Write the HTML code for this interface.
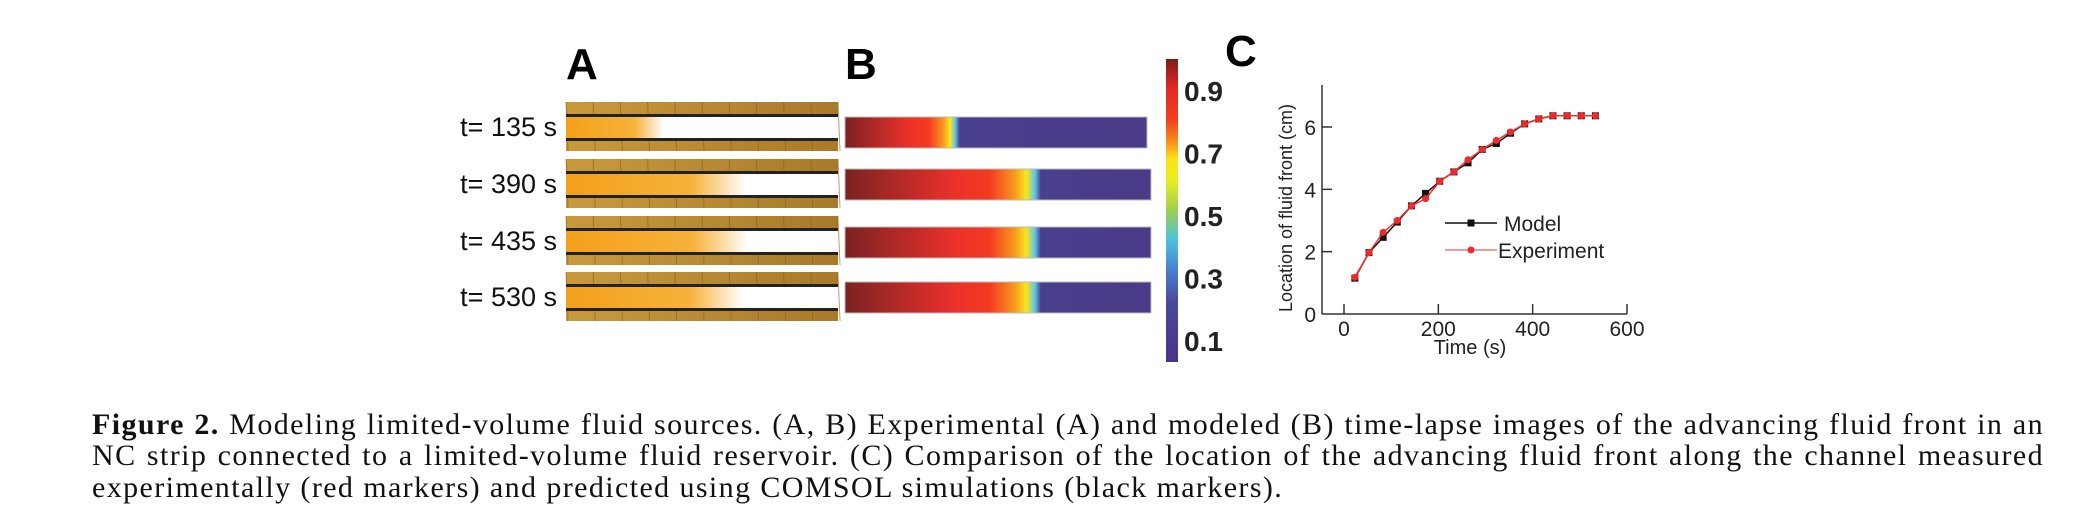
<!DOCTYPE html>
<html><head><meta charset="utf-8"><style>
html,body{margin:0;padding:0;background:#fff;width:2074px;height:529px;overflow:hidden;position:relative}
.cap{position:absolute;left:92px;width:1952px;font-family:"Liberation Serif",serif;font-size:30px;letter-spacing:1.4px;line-height:31px;color:#111;text-align:justify;text-align-last:justify;white-space:nowrap}
.cap.last{text-align-last:left}
</style></head><body>
<svg width="2074" height="400" style="position:absolute;left:0;top:0">
<defs>
<linearGradient id="band" x1="0" x2="1"><stop offset="0" stop-color="#c99a3c"/><stop offset="1" stop-color="#a87a2a"/></linearGradient>
<linearGradient id="cbar" x1="0" y1="0" x2="0" y2="1">
<stop offset="0" stop-color="#7a1c1c"/><stop offset="0.1" stop-color="#e32a22"/><stop offset="0.2" stop-color="#f04020"/><stop offset="0.27" stop-color="#f88a1c"/><stop offset="0.33" stop-color="#fbe21a"/><stop offset="0.4" stop-color="#e6ee20"/><stop offset="0.5" stop-color="#9cd050"/><stop offset="0.6" stop-color="#4cc0e0"/><stop offset="0.7" stop-color="#4a7ed0"/><stop offset="0.8" stop-color="#4a4a9a"/><stop offset="1" stop-color="#4a3488"/></linearGradient>
</defs>
<text x="566" y="79" font-family="Liberation Sans,sans-serif" font-weight="bold" font-size="44">A</text>
<text x="845" y="79" font-family="Liberation Sans,sans-serif" font-weight="bold" font-size="44">B</text>
<text x="1225" y="66" font-family="Liberation Sans,sans-serif" font-weight="bold" font-size="44">C</text>
<g id="strips-a"></g>
<g id="strips-b"></g>
<rect x="1166" y="59" width="12" height="303" fill="url(#cbar)"/>
<g id="cbticks"></g>
<g id="chart"></g>
</svg>
<div class="cap" style="top:409px"><b>Figure 2.</b> Modeling limited-volume fluid sources. (A, B) Experimental (A) and modeled (B) time-lapse images of the advancing fluid front in an</div>
<div class="cap" style="top:440px">NC strip connected to a limited-volume fluid reservoir. (C) Comparison of the location of the advancing fluid front along the channel measured</div>
<div class="cap last" style="top:472px">experimentally (red markers) and predicted using COMSOL simulations (black markers).</div>
<script>
const times=["t= 135 s","t= 390 s","t= 435 s","t= 530 s"];
const expFront=[0.36,0.66,0.67,0.65];
const modFront=[0.37,0.63,0.63,0.63];
const cbLabels=["0.9","0.7","0.5","0.3","0.1"];
const cbValues=[0.9,0.7,0.5,0.3,0.1];
const tData=[23,53,83,113,143,173,203,233,263,293,323,353,383,413,443,473,503,533];
const modelY=[1.15,1.97,2.46,2.95,3.47,3.87,4.26,4.56,4.85,5.28,5.47,5.8,6.1,6.26,6.36,6.36,6.36,6.36];
const expY=[1.18,1.97,2.62,3.0,3.47,3.7,4.26,4.56,4.95,5.28,5.57,5.84,6.1,6.26,6.36,6.36,6.36,6.36];
const xTicks=[0,200,400,600];
const yTicks=[0,2,4,6];
const NS="http://www.w3.org/2000/svg";
function mk(p,tag,a){const e=document.createElementNS(NS,tag);for(const k in a)e.setAttribute(k,a[k]);p.appendChild(e);return e;}
const gA=document.getElementById('strips-a');
const aTop=[102,159,216,272];
times.forEach((t,i)=>{
 const y=aTop[i],x=566,w=272,h=49;
 mk(gA,'rect',{x:x,y:y,width:w,height:h,fill:'url(#band)'});
 for(let k=0;k<11;k++){mk(gA,'line',{x1:x+k*w/10,y1:y,x2:x+k*w/10+2,y2:y+h,stroke:'#8a5e1c','stroke-width':1,opacity:0.6});}
 mk(gA,'rect',{x:x,y:y+13,width:w,height:24,fill:'#fff'});
 const g=mk(gA,'linearGradient',{id:'ag'+i,x1:0,x2:1});
 mk(g,'stop',{offset:0,'stop-color':'#f4a01a'});mk(g,'stop',{offset:0.7,'stop-color':'#f6b23a'});mk(g,'stop',{offset:1,'stop-color':'#fff'});
 mk(gA,'rect',{x:x,y:y+13,width:w*expFront[i],height:24,fill:'url(#ag'+i+')'});
 mk(gA,'rect',{x:x,y:y+12,width:w,height:3,fill:'#222'});
 mk(gA,'rect',{x:x,y:y+36,width:w,height:3,fill:'#222'});
 const tx=mk(gA,'text',{x:557,y:y+34,'text-anchor':'end','font-family':'Liberation Sans,sans-serif','font-size':27,fill:'#111'});
 tx.textContent=t;
 
 
});
const gB=document.getElementById('strips-b');
const bTop=[117,169,227,282],bRight=[1147,1151,1151,1151];
modFront.forEach((f,i)=>{
 const x=845,w=bRight[i]-x,y=bTop[i],h=31;
 const g=mk(gB,'linearGradient',{id:'bg'+i,x1:0,x2:1});
 const stops=[[0,'#7a2222'],[f*0.55,'#e8302a'],[f*0.75,'#f43a22'],[f*0.88,'#f8981e'],[f*0.94,'#fbe61c'],[f*0.985,'#60c8e8'],[f+0.01,'#4a3e8e'],[1,'#4a3a88']];
 stops.forEach(s=>mk(g,'stop',{offset:s[0],'stop-color':s[1]}));
 const r=mk(gB,'rect',{x:x,y:y,width:w,height:h,fill:'url(#bg'+i+')',stroke:'#bbb','stroke-width':1});
 
 
});
const gC=document.getElementById('cbticks');
const cbY=v=>90+(0.9-v)*312.5;
cbValues.forEach((v,i)=>{
 const tx=mk(gC,'text',{x:1184,y:cbY(v)+11,'font-family':'Liberation Sans,sans-serif','font-weight':'bold','font-size':28,fill:'#222'});
 tx.textContent=cbLabels[i];
});
const ch=document.getElementById('chart');
const X=t=>1344+t*(1627-1344)/600;
const Y=v=>314-v*(314-127)/6;
mk(ch,'line',{x1:1322,y1:85,x2:1322,y2:314,stroke:'#333','stroke-width':1.5});
mk(ch,'line',{x1:1322,y1:314,x2:1627,y2:314,stroke:'#333','stroke-width':1.5});
xTicks.forEach(t=>{mk(ch,'line',{x1:X(t),y1:314,x2:X(t),y2:304,stroke:'#333','stroke-width':1.5});
 const tx=mk(ch,'text',{x:X(t),y:336,'text-anchor':'middle','font-family':'Liberation Sans,sans-serif','font-size':21,fill:'#222'});tx.textContent=t;});
yTicks.forEach(v=>{if(v>0)mk(ch,'line',{x1:1322,y1:Y(v),x2:1332,y2:Y(v),stroke:'#333','stroke-width':1.5});
 const tx=mk(ch,'text',{x:1316,y:Y(v)+8,'text-anchor':'end','font-family':'Liberation Sans,sans-serif','font-size':21,fill:'#222'});tx.textContent=v;});
const xl=mk(ch,'text',{x:1470,y:354,'text-anchor':'middle','font-family':'Liberation Sans,sans-serif','font-size':20,fill:'#222'});xl.textContent='Time (s)';


const yl=mk(ch,'text',{x:0,y:0,transform:'translate(1292,208) rotate(-90)','text-anchor':'middle','font-family':'Liberation Sans,sans-serif','font-size':18,fill:'#222'});yl.textContent='Location of fluid front (cm)';


const mp=tData.map((t,i)=>X(t)+','+Y(modelY[i])).join(' ');
const ml=mk(ch,'polyline',{points:mp,fill:'none',stroke:'#111','stroke-width':1.5});


tData.forEach((t,i)=>{const r=mk(ch,'rect',{x:X(t)-3.5,y:Y(modelY[i])-3.5,width:7,height:7,fill:'#111'});
 
 });
const ep=tData.map((t,i)=>X(t)+','+Y(expY[i])).join(' ');
const el=mk(ch,'polyline',{points:ep,fill:'none',stroke:'#f03030','stroke-width':1.5});


tData.forEach((t,i)=>{const c=mk(ch,'circle',{cx:X(t),cy:Y(expY[i]),r:3.5,fill:'#f02a2a'});
 
 });
mk(ch,'line',{x1:1445,y1:223,x2:1497,y2:223,stroke:'#111','stroke-width':1.5});
mk(ch,'rect',{x:1467.5,y:219.5,width:7,height:7,fill:'#111'});
const t1=mk(ch,'text',{x:1504,y:231,'font-family':'Liberation Sans,sans-serif','font-size':21,fill:'#222'});t1.textContent='Model';


mk(ch,'line',{x1:1445,y1:250,x2:1497,y2:250,stroke:'#f03030','stroke-width':1});
mk(ch,'circle',{cx:1471,cy:250,r:3.5,fill:'#f02a2a'});
const t2=mk(ch,'text',{x:1498,y:258,'font-family':'Liberation Sans,sans-serif','font-size':21,fill:'#222'});t2.textContent='Experiment';


</script>
</body></html>
